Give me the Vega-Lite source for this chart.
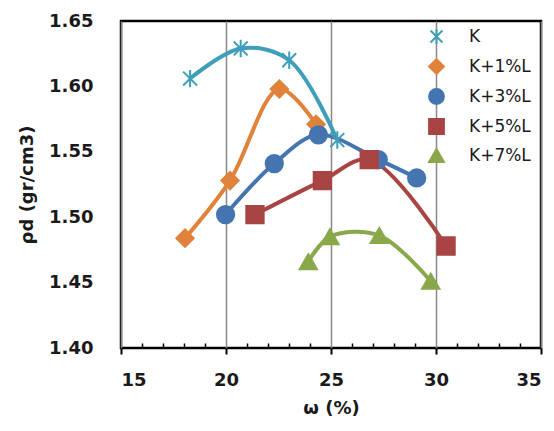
{
  "$schema": "https://vega.github.io/schema/vega-lite/v6.json",
  "autosize": "none",
  "width": 420,
  "height": 327,
  "padding": {"left": 121, "top": 21, "right": 13, "bottom": 83},
  "background": "white",
  "config": {
    "view": {"stroke": "black", "strokeWidth": 2.5},
    "font": "DejaVu Sans"
  },
  "data": {
    "values": [
      {"w": 18.29, "rho": 1.606, "series": "K"},
      {"w": 20.70, "rho": 1.629, "series": "K"},
      {"w": 23.01, "rho": 1.620, "series": "K"},
      {"w": 25.30, "rho": 1.559, "series": "K"},
      {"w": 18.05, "rho": 1.484, "series": "K+1%L"},
      {"w": 20.19, "rho": 1.528, "series": "K+1%L"},
      {"w": 22.54, "rho": 1.598, "series": "K+1%L"},
      {"w": 24.29, "rho": 1.571, "series": "K+1%L"},
      {"w": 19.98, "rho": 1.502, "series": "K+3%L"},
      {"w": 22.30, "rho": 1.541, "series": "K+3%L"},
      {"w": 24.40, "rho": 1.563, "series": "K+3%L"},
      {"w": 27.25, "rho": 1.544, "series": "K+3%L"},
      {"w": 29.08, "rho": 1.530, "series": "K+3%L"},
      {"w": 21.38, "rho": 1.502, "series": "K+5%L"},
      {"w": 24.59, "rho": 1.528, "series": "K+5%L"},
      {"w": 26.82, "rho": 1.544, "series": "K+5%L"},
      {"w": 30.48, "rho": 1.478, "series": "K+5%L"},
      {"w": 23.92, "rho": 1.466, "series": "K+7%L"},
      {"w": 24.95, "rho": 1.485, "series": "K+7%L"},
      {"w": 27.30, "rho": 1.486, "series": "K+7%L"},
      {"w": 29.75, "rho": 1.451, "series": "K+7%L"}
    ]
  },
  "encoding": {
    "x": {
      "field": "w", "type": "quantitative",
      "scale": {"domain": [15, 35], "nice": false, "zero": false},
      "axis": null
    },
    "y": {
      "field": "rho", "type": "quantitative",
      "scale": {"domain": [1.40, 1.65], "nice": false, "zero": false},
      "axis": {
        "title": "ρd (gr/cm3)", "values": [1.40, 1.45, 1.50, 1.55, 1.60, 1.65],
        "format": ".2f", "ticks": false, "domain": false, "grid": false,
        "labelFont": "DejaVu Sans", "labelFontWeight": "bold", "labelFontSize": 18, "labelColor": "#1a1a1a",
        "labelPadding": 28, "titleFont": "DejaVu Sans", "titleFontWeight": "bold", "titleFontSize": 18,
        "titleColor": "#1a1a1a", "titlePadding": 12
      }
    },
    "color": {
      "field": "series", "type": "nominal",
      "scale": {"domain": ["K", "K+1%L", "K+3%L", "K+5%L", "K+7%L"],
                "range": ["#3F9FBA", "#E0823A", "#4575B0", "#A84444", "#88A84A"]},
      "legend": {
        "title": null, "orient": "none", "legendX": 307, "legendY": 7,
        "labelFont": "DejaVu Sans", "labelFontSize": 17, "labelColor": "#1a1a1a",
        "symbolSize": 220, "symbolStrokeWidth": 2, "rowPadding": 7, "labelOffset": 24
      }
    }
  },
  "layer": [
    {
      "mark": {"type": "line", "interpolate": "catmull-rom", "strokeWidth": 4},
      "encoding": {
        "x": {
          "field": "w", "type": "quantitative",
          "axis": {
            "orient": "bottom",
            "title": "ω (%)", "values": [15, 20, 25, 30, 35], "domain": false,
            "grid": true, "gridColor": "#888888", "gridWidth": 1.5,
            "tickColor": "black", "tickWidth": 2, "tickSize": 6,
            "labelFont": "DejaVu Sans", "labelFontWeight": "bold", "labelFontSize": 18, "labelColor": "#1a1a1a",
            "labelPadding": 17, "titleFont": "DejaVu Sans", "titleFontWeight": "bold", "titleFontSize": 18,
            "titleColor": "#1a1a1a", "titlePadding": 10
          }
        }
      }
    },
    {
      "mark": {"type": "point", "filled": true, "opacity": 1, "strokeWidth": 2},
      "encoding": {
        "shape": {
          "field": "series", "type": "nominal",
          "scale": {"domain": ["K", "K+1%L", "K+3%L", "K+5%L", "K+7%L"],
                    "range": ["M0,-1L0,1M-0.8,-0.8L0.8,0.8M-0.8,0.8L0.8,-0.8", "diamond", "circle", "square", "triangle-up"]}
        },
        "stroke": {
          "field": "series", "type": "nominal",
          "scale": {"domain": ["K", "K+1%L", "K+3%L", "K+5%L", "K+7%L"],
                    "range": ["#3F9FBA", "#E0823A", "#4575B0", "#A84444", "#88A84A"]}
        },
        "size": {"value": 300}
      }
    },
    {
      "mark": {"type": "point", "opacity": 0},
      "encoding": {
        "x": {
          "field": "w", "type": "quantitative",
          "axis": {
            "orient": "bottom",
            "values": [16,17,18,19,21,22,23,24,26,27,28,29,31,32,33,34],
            "labels": false, "domain": false, "grid": false, "title": null,
            "tickColor": "black", "tickWidth": 1.5, "tickSize": -5
          }
        }
      }
    }
  ],
  "resolve": {"axis": {"x": "independent"}}
}
